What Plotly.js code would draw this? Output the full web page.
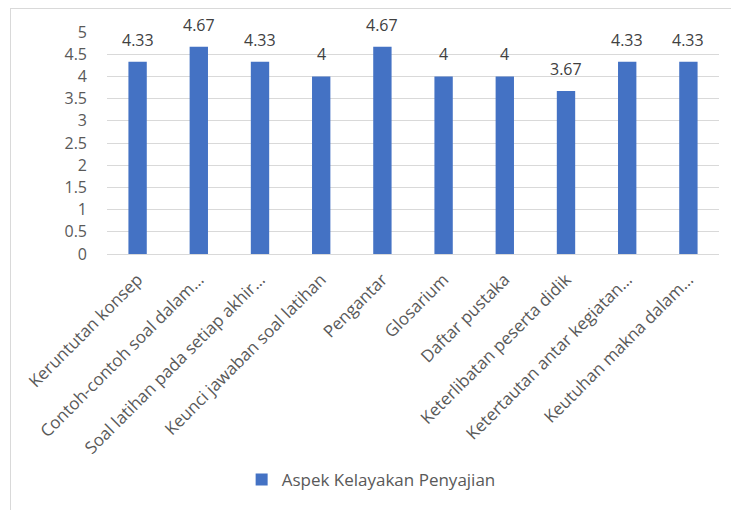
<!DOCTYPE html>
<html>
<head>
<meta charset="utf-8">
<script src="https://cdn.plot.ly/plotly-3.0.1.min.js"></script>
<style>
  html, body { margin: 0; padding: 0; background: #fff; }
  #wrap { position: relative; width: 731px; height: 510px; }
  #frame { position: absolute; left: 10px; top: 8px; width: 740px; height: 520px;
           border-top: 1px solid #d9d9d9; border-left: 1px solid #d9d9d9; pointer-events: none; }
  #chart { position: absolute; left: 0; top: 0; width: 731px; height: 510px; }
</style>
</head>
<body>
<div id="wrap">
  <div id="chart"></div>
  <div id="frame"></div>
</div>
<script>
// Aspects of presentation feasibility and their mean scores
const categories = [
  "Keruntutan konsep",
  "Contoh-contoh soal dalam…",
  "Soal latihan pada setiap akhir…",
  "Keunci jawaban soal latihan",
  "Pengantar",
  "Glosarium",
  "Daftar pustaka",
  "Keterlibatan peserta didik",
  "Ketertautan antar kegiatan…",
  "Keutuhan makna dalam…"
];
const scores = [4.33, 4.67, 4.33, 4, 4.67, 4, 4, 3.67, 4.33, 4.33];
const seriesName = "Aspek Kelayakan Penyajian";
const yTicks = [0, 0.5, 1, 1.5, 2, 2.5, 3, 3.5, 4, 4.5, 5];

const fontFamily = "'Open Sans', Lato, sans-serif";
const textGrey = "#595959";

const trace = {
  type: "bar",
  x: categories,
  y: scores,
  name: seriesName,
  marker: { color: "#4472C4" },
  hoverinfo: "x+y"
};

// value labels sit a little above each bar top
const valueLabels = categories.map((c, i) => ({
  x: c,
  y: scores[i],
  xref: "x",
  yref: "y",
  text: String(scores[i]),
  showarrow: false,
  yanchor: "bottom",
  yshift: 9,
  font: { family: fontFamily, size: 16, color: "#404040" }
}));

const layout = {
  width: 731,
  height: 510,
  margin: { l: 107, r: 12, t: 32, b: 256 },
  paper_bgcolor: "#ffffff",
  plot_bgcolor: "#ffffff",
  bargap: 0.7,
  showlegend: true,
  legend: {
    orientation: "h",
    x: 0.22, xanchor: "left",
    y: -1.018, yanchor: "middle",
    font: { family: fontFamily, size: 17, color: textGrey }
  },
  annotations: valueLabels,
  xaxis: {
    type: "category",
    tickangle: -45,
    tickfont: { family: fontFamily, size: 17, color: textGrey },
    showgrid: false,
    showline: true,
    linecolor: "#d9d9d9",
    linewidth: 1,
    ticks: "",
    ticklabelstandoff: 8
  },
  yaxis: {
    range: [0, 5],
    tickvals: yTicks,
    ticktext: yTicks.map(String),
    tickfont: { family: fontFamily, size: 16, color: textGrey },
    showgrid: true,
    gridcolor: "#d9d9d9",
    gridwidth: 1,
    zeroline: false,
    showline: false,
    ticks: "",
    ticklabelstandoff: 19
  }
};

Plotly.newPlot("chart", [trace], layout, { displayModeBar: false, staticPlot: true });
</script>
</body>
</html>
